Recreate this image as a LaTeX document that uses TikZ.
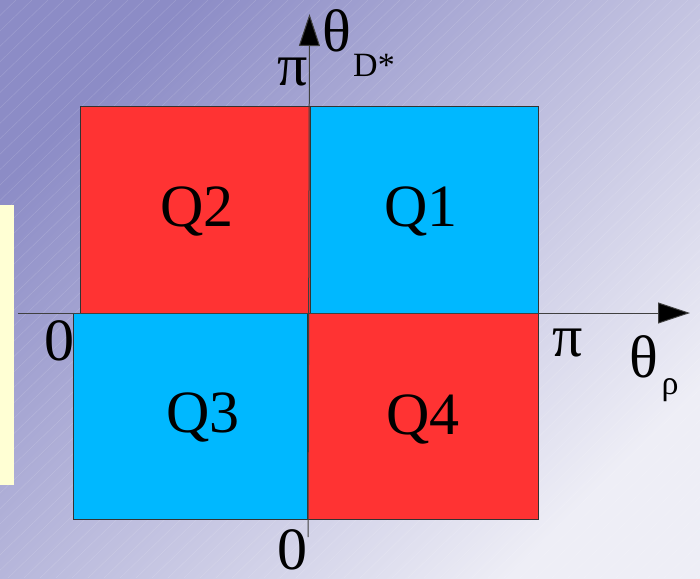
\documentclass[tikz,border=0pt]{standalone}
\usepackage{fontspec}
\setmainfont{Liberation Serif}
\usetikzlibrary{arrows.meta,positioning}
\definecolor{qred}{HTML}{FF3333}
\definecolor{qblue}{HTML}{00B8FF}
\definecolor{bgdark}{HTML}{8C8CC6}
\definecolor{bglight}{HTML}{EEEEF6}
\definecolor{notey}{HTML}{FFFFD4}

\begin{document}
\begin{tikzpicture}[x=1pt,y=-1pt,
  every node/.style={inner sep=0pt,font=\rmfamily\fontsize{60}{60}\selectfont}]
\tikzstyle{quad}=[draw=black!80,line width=1pt]
\tikzstyle{axis}=[draw=black!75,line width=1pt,-{Triangle[length=32pt,width=21pt,fill=black]}]
\tikzstyle{sub}=[font=\rmfamily\fontsize{34}{34}\selectfont]
\useasboundingbox (0,0) rectangle (700,578);
% background
\shade[top color=bgdark,bottom color=bglight,shading angle=45] (0,0) rectangle (700,578);
\begin{scope}
\clip (0,0) rectangle (700,578);
\foreach \k in {0,16,...,1300}
  \draw[white,opacity=0.15,line width=0.5pt] (\k-600,578) -- (\k,0);
\end{scope}
\fill[notey] (-2,205) rectangle (14,485);
% quadrants
\draw[quad,fill=qred] (80,106) rectangle (310,313);
\draw[quad,fill=qblue] (310,106) rectangle (538,313);
\draw[quad,fill=qblue] (73,313) rectangle (307,519);
\draw[quad,fill=qred] (307,313) rectangle (538,519);
\node (q2) at (197,211) {Q2};
\node (q1) at (421,211) {Q1};
\node (q3) at (203,417) {Q3};
\node (q4) at (423,419) {Q4};
% axes
\coordinate (xstart) at (18,313);
\coordinate (xend) at (690,313);
\coordinate (ybot) at (308,537);
\coordinate (ytop) at (309.5,14);
\draw[axis] (xstart) -- (xend);
\draw[axis] (ybot) -- (ytop);
\node (zerox) at (59,341) {0};
\node (zeroy) at (292,550) {0};
\node (piy) at (293,72) {π};
\node (pix) at (568,343) {π};
\node (thy) at (337,31) {θ};
\node[sub] (dstar) at (374,65) {D*};
\node (thx) at (644,357) {θ};
\node[sub] (rho) at (670,390) {ρ};
\end{tikzpicture}
\end{document}
